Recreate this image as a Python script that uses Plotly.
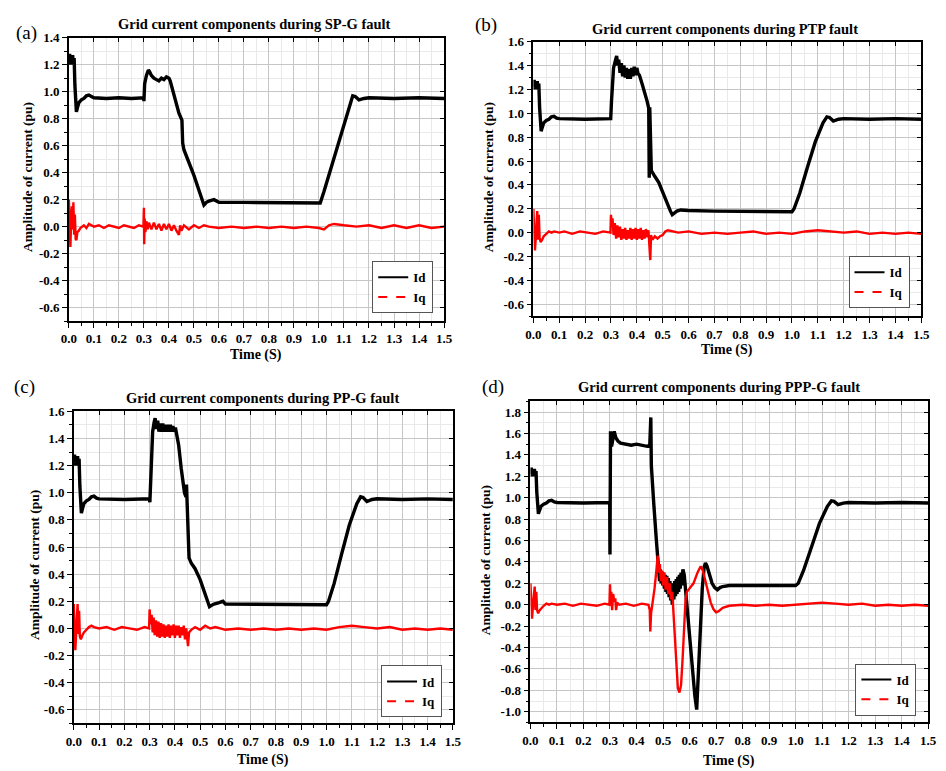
import plotly.graph_objects as go

# ---------------------------------------------------------------------------
# Grid current components (Id, Iq) in pu versus time (s) for four fault types
# ---------------------------------------------------------------------------

FAULTS = ["SP-G", "PTP", "PP-G", "PPP-G"]
PANEL_TAGS = ["(a)", "(b)", "(c)", "(d)"]
SERIES_NAMES = ["Id", "Iq"]
X_TICKS = [round(0.1 * k, 1) for k in range(16)]

# (time, value) samples
ID_SPG = [(0.000, 1.22), (0.003, 1.28), (0.006, 1.20), (0.009, 1.26), (0.012, 1.21), (0.015, 1.27),
          (0.018, 1.20), (0.021, 1.25), (0.024, 1.05), (0.027, 0.90), (0.030, 0.85), (0.034, 0.88),
          (0.040, 0.92), (0.050, 0.94), (0.060, 0.95), (0.070, 0.97), (0.080, 0.975), (0.090, 0.965),
          (0.100, 0.955), (0.150, 0.95), (0.200, 0.955), (0.250, 0.95), (0.299, 0.955), (0.300, 0.93),
          (0.303, 1.06), (0.310, 1.12), (0.318, 1.16), (0.322, 1.15), (0.330, 1.12), (0.340, 1.10),
          (0.350, 1.09), (0.360, 1.08), (0.370, 1.10), (0.380, 1.09), (0.390, 1.11), (0.400, 1.10),
          (0.405, 1.08), (0.420, 0.98), (0.440, 0.84), (0.452, 0.79), (0.455, 0.62), (0.460, 0.57),
          (0.480, 0.48), (0.500, 0.38), (0.520, 0.27), (0.535, 0.17), (0.540, 0.16), (0.550, 0.18),
          (0.560, 0.19), (0.580, 0.20), (0.600, 0.18), (0.700, 0.18), (0.800, 0.18), (0.900, 0.18),
          (1.000, 0.18), (1.005, 0.175), (1.020, 0.26), (1.050, 0.44), (1.080, 0.62), (1.110, 0.80),
          (1.135, 0.97), (1.145, 0.965), (1.160, 0.94), (1.180, 0.95), (1.200, 0.955), (1.300, 0.95),
          (1.400, 0.955), (1.500, 0.95)]

IQ_SPG = [(0.000, 0.20), (0.003, -0.10), (0.006, -0.15), (0.009, 0.04), (0.012, 0.15), (0.015, -0.02),
          (0.018, 0.18), (0.021, -0.06), (0.024, 0.09), (0.027, -0.09), (0.030, -0.10), (0.034, -0.04),
          (0.040, -0.03), (0.046, -0.01), (0.052, 0.00), (0.060, 0.01), (0.070, -0.01), (0.080, 0.02),
          (0.090, 0.01), (0.100, 0.00), (0.120, 0.01), (0.140, -0.01), (0.160, 0.01), (0.180, 0.00),
          (0.200, -0.01), (0.220, 0.01), (0.240, 0.00), (0.260, -0.01), (0.280, 0.01), (0.298, 0.00),
          (0.300, 0.14), (0.301, -0.13), (0.303, 0.06), (0.306, -0.04), (0.310, 0.04), (0.315, -0.02),
          (0.320, 0.03), (0.330, -0.02), (0.340, 0.03), (0.350, -0.02), (0.360, 0.02), (0.370, -0.03),
          (0.380, 0.02), (0.390, -0.02), (0.400, 0.02), (0.410, -0.03), (0.420, 0.01), (0.430, -0.03),
          (0.440, -0.06), (0.445, 0.01), (0.450, -0.03), (0.460, 0.01), (0.480, -0.02), (0.500, 0.01),
          (0.520, -0.01), (0.540, 0.01), (0.560, 0.00), (0.600, -0.01), (0.650, 0.00), (0.700, -0.01),
          (0.750, 0.00), (0.800, -0.01), (0.850, 0.00), (0.900, -0.01), (0.950, 0.00), (1.000, -0.01),
          (1.020, -0.02), (1.040, 0.01), (1.060, 0.02), (1.100, 0.01), (1.150, 0.00), (1.200, 0.01),
          (1.250, -0.01), (1.300, 0.01), (1.350, -0.01), (1.400, 0.01), (1.450, -0.01), (1.500, 0.00)]

ID_PTP = [(0.000, 1.22), (0.003, 1.28), (0.006, 1.20), (0.009, 1.26), (0.012, 1.21), (0.015, 1.27),
          (0.018, 1.20), (0.021, 1.25), (0.024, 1.05), (0.027, 0.90), (0.030, 0.85), (0.034, 0.88),
          (0.040, 0.92), (0.050, 0.94), (0.060, 0.95), (0.070, 0.97), (0.080, 0.975), (0.090, 0.96),
          (0.100, 0.955), (0.200, 0.95), (0.299, 0.955), (0.302, 1.10), (0.310, 1.38), (0.318, 1.45),
          (0.322, 1.48), (0.326, 1.40), (0.330, 1.45), (0.335, 1.34), (0.340, 1.42), (0.345, 1.31),
          (0.350, 1.40), (0.355, 1.30), (0.360, 1.38), (0.365, 1.29), (0.370, 1.37), (0.375, 1.29),
          (0.380, 1.38), (0.385, 1.31), (0.390, 1.39), (0.395, 1.32), (0.400, 1.38), (0.405, 1.33),
          (0.410, 1.32), (0.420, 1.25), (0.432, 1.17), (0.440, 1.10), (0.446, 1.04), (0.448, 0.46),
          (0.450, 1.05), (0.452, 0.70), (0.456, 0.52), (0.470, 0.47), (0.485, 0.42), (0.500, 0.34),
          (0.515, 0.25), (0.530, 0.18), (0.537, 0.15), (0.545, 0.16), (0.555, 0.18), (0.570, 0.19),
          (0.600, 0.185), (0.700, 0.18), (0.800, 0.18), (0.900, 0.18), (1.000, 0.175), (1.008, 0.20),
          (1.030, 0.33), (1.060, 0.55), (1.090, 0.76), (1.120, 0.92), (1.135, 0.97), (1.145, 0.965),
          (1.160, 0.935), (1.180, 0.95), (1.200, 0.955), (1.300, 0.95), (1.400, 0.955), (1.500, 0.95)]

IQ_PTP = [(0.000, 0.20), (0.003, -0.12), (0.006, -0.15), (0.009, -0.05), (0.012, 0.08), (0.015, 0.18),
          (0.018, -0.06), (0.021, 0.15), (0.024, -0.04), (0.028, -0.08), (0.034, -0.06), (0.040, -0.03),
          (0.050, -0.01), (0.060, 0.01), (0.070, 0.00), (0.080, 0.01), (0.100, 0.00), (0.120, 0.01),
          (0.150, -0.01), (0.180, 0.01), (0.210, 0.00), (0.240, -0.01), (0.270, 0.01), (0.298, 0.00),
          (0.300, 0.15), (0.303, 0.05), (0.306, 0.12), (0.310, -0.02), (0.315, 0.08), (0.320, -0.05),
          (0.325, 0.06), (0.330, -0.04), (0.335, 0.05), (0.340, -0.06), (0.345, 0.03), (0.350, -0.05),
          (0.355, 0.04), (0.360, -0.06), (0.365, 0.02), (0.370, -0.05), (0.375, 0.04), (0.380, -0.06),
          (0.385, 0.03), (0.390, -0.05), (0.395, 0.04), (0.400, -0.06), (0.405, 0.03), (0.410, -0.05),
          (0.415, 0.04), (0.420, -0.06), (0.425, 0.02), (0.430, -0.05), (0.435, 0.03), (0.440, -0.04),
          (0.445, 0.02), (0.452, -0.23), (0.455, -0.02), (0.460, -0.06), (0.470, -0.03), (0.480, -0.05),
          (0.490, -0.03), (0.500, -0.02), (0.510, 0.01), (0.520, 0.02), (0.540, 0.01), (0.560, 0.00),
          (0.600, 0.01), (0.650, -0.01), (0.700, 0.00), (0.750, -0.01), (0.800, 0.00), (0.850, 0.01),
          (0.900, -0.01), (0.950, 0.00), (1.000, -0.01), (1.050, 0.01), (1.100, 0.02), (1.150, 0.01),
          (1.200, 0.00), (1.250, 0.01), (1.300, -0.01), (1.350, 0.00), (1.400, -0.01), (1.450, 0.00),
          (1.500, -0.01)]

ID_PPG = [(0.000, 1.22), (0.003, 1.28), (0.006, 1.20), (0.009, 1.26), (0.012, 1.21), (0.015, 1.27),
          (0.018, 1.20), (0.021, 1.25), (0.024, 1.05), (0.027, 0.90), (0.030, 0.85), (0.034, 0.88),
          (0.040, 0.92), (0.050, 0.94), (0.060, 0.95), (0.070, 0.97), (0.080, 0.975), (0.090, 0.96),
          (0.100, 0.955), (0.200, 0.95), (0.299, 0.955), (0.301, 0.93), (0.305, 1.15), (0.312, 1.45),
          (0.318, 1.52), (0.322, 1.55), (0.326, 1.47), (0.332, 1.53), (0.337, 1.45), (0.342, 1.51),
          (0.347, 1.45), (0.352, 1.51), (0.357, 1.45), (0.362, 1.50), (0.367, 1.45), (0.372, 1.50),
          (0.377, 1.45), (0.382, 1.50), (0.387, 1.45), (0.392, 1.49), (0.397, 1.45), (0.402, 1.48),
          (0.405, 1.45), (0.415, 1.35), (0.425, 1.18), (0.432, 1.05), (0.438, 1.00), (0.444, 0.97),
          (0.446, 1.06), (0.448, 0.95), (0.452, 0.72), (0.456, 0.52), (0.465, 0.48), (0.480, 0.44),
          (0.500, 0.36), (0.520, 0.26), (0.537, 0.16), (0.545, 0.17), (0.555, 0.18), (0.575, 0.19),
          (0.590, 0.20), (0.600, 0.18), (0.700, 0.18), (0.800, 0.18), (0.900, 0.18), (1.000, 0.175),
          (1.008, 0.20), (1.030, 0.33), (1.060, 0.55), (1.090, 0.76), (1.120, 0.92), (1.135, 0.97),
          (1.145, 0.965), (1.160, 0.935), (1.180, 0.95), (1.200, 0.955), (1.300, 0.95), (1.400, 0.955),
          (1.500, 0.95)]

IQ_PPG = [(0.000, 0.18), (0.003, -0.10), (0.006, -0.16), (0.009, -0.05), (0.012, 0.10), (0.015, 0.18),
          (0.018, -0.04), (0.021, 0.13), (0.024, -0.06), (0.028, -0.08), (0.034, -0.05), (0.040, -0.03),
          (0.050, -0.01), (0.060, 0.01), (0.070, 0.02), (0.080, 0.01), (0.100, 0.00), (0.130, 0.01),
          (0.160, -0.01), (0.190, 0.01), (0.220, 0.00), (0.250, -0.01), (0.280, 0.01), (0.298, 0.00),
          (0.300, 0.14), (0.304, 0.03), (0.308, 0.10), (0.312, -0.03), (0.316, 0.08), (0.320, -0.05),
          (0.325, 0.06), (0.330, -0.06), (0.335, 0.05), (0.340, -0.07), (0.345, 0.04), (0.350, -0.06),
          (0.355, 0.03), (0.360, -0.07), (0.365, 0.02), (0.370, -0.06), (0.375, 0.03), (0.380, -0.07),
          (0.385, 0.02), (0.390, -0.05), (0.395, 0.03), (0.400, -0.07), (0.405, 0.02), (0.410, -0.05),
          (0.415, 0.02), (0.420, -0.07), (0.425, 0.01), (0.430, -0.05), (0.435, 0.02), (0.440, -0.08),
          (0.445, 0.00), (0.452, -0.13), (0.456, -0.03), (0.465, -0.01), (0.480, 0.01), (0.500, -0.01),
          (0.520, 0.02), (0.540, 0.00), (0.560, 0.01), (0.600, -0.01), (0.650, 0.00), (0.700, -0.01),
          (0.750, 0.00), (0.800, -0.01), (0.850, 0.00), (0.900, -0.01), (0.950, 0.00), (1.000, -0.01),
          (1.050, 0.01), (1.100, 0.02), (1.150, 0.01), (1.200, 0.00), (1.250, 0.01), (1.300, -0.01),
          (1.350, 0.00), (1.400, -0.01), (1.450, 0.00), (1.500, -0.01)]

ID_PPPG = [(0.000, 1.22), (0.003, 1.28), (0.006, 1.20), (0.009, 1.26), (0.012, 1.21), (0.015, 1.27),
           (0.018, 1.20), (0.021, 1.25), (0.024, 1.05), (0.027, 0.90), (0.030, 0.85), (0.034, 0.88),
           (0.040, 0.92), (0.050, 0.94), (0.060, 0.95), (0.070, 0.97), (0.080, 0.975), (0.090, 0.96),
           (0.100, 0.955), (0.200, 0.95), (0.299, 0.955), (0.300, 0.47), (0.302, 1.62), (0.306, 1.48),
           (0.312, 1.60), (0.316, 1.62), (0.322, 1.56), (0.330, 1.53), (0.340, 1.51), (0.360, 1.50),
           (0.380, 1.49), (0.400, 1.50), (0.420, 1.49), (0.440, 1.48), (0.450, 1.49), (0.454, 1.75),
           (0.456, 1.30), (0.458, 1.20), (0.465, 0.95), (0.475, 0.60), (0.484, 0.30), (0.487, 0.22),
           (0.490, 0.33), (0.493, 0.20), (0.496, 0.31), (0.499, 0.18), (0.502, 0.30), (0.505, 0.15),
           (0.508, 0.28), (0.511, 0.12), (0.514, 0.27), (0.517, 0.10), (0.520, 0.25), (0.523, 0.07),
           (0.526, 0.22), (0.529, 0.04), (0.532, 0.20), (0.535, 0.00), (0.538, 0.18), (0.541, 0.05),
           (0.544, 0.22), (0.547, 0.08), (0.550, 0.24), (0.553, 0.10), (0.556, 0.26), (0.559, 0.12),
           (0.562, 0.28), (0.565, 0.15), (0.568, 0.30), (0.571, 0.18), (0.575, 0.33), (0.580, 0.28),
           (0.590, 0.00), (0.600, -0.30), (0.610, -0.58), (0.620, -0.85), (0.627, -0.98), (0.633, -0.60),
           (0.640, -0.20), (0.648, 0.15), (0.655, 0.35), (0.660, 0.39), (0.666, 0.36), (0.675, 0.27),
           (0.685, 0.20), (0.695, 0.16), (0.705, 0.14), (0.715, 0.16), (0.725, 0.17), (0.750, 0.18),
           (0.800, 0.18), (0.900, 0.18), (1.000, 0.18), (1.010, 0.20), (1.030, 0.32), (1.060, 0.54),
           (1.090, 0.76), (1.120, 0.92), (1.135, 0.97), (1.145, 0.965), (1.160, 0.935), (1.180, 0.95),
           (1.200, 0.955), (1.300, 0.95), (1.400, 0.955), (1.500, 0.95)]

IQ_PPPG = [(0.000, 0.20), (0.003, -0.10), (0.006, -0.13), (0.009, -0.03), (0.012, 0.08), (0.016, 0.17),
           (0.019, -0.05), (0.022, 0.12), (0.025, -0.05), (0.029, -0.08), (0.035, -0.05), (0.042, -0.03),
           (0.050, -0.01), (0.060, 0.01), (0.070, 0.00), (0.080, 0.01), (0.100, 0.00), (0.130, 0.01),
           (0.160, -0.01), (0.190, 0.01), (0.220, 0.00), (0.250, -0.01), (0.280, 0.01), (0.298, 0.00),
           (0.300, 0.19), (0.302, 0.05), (0.305, 0.12), (0.308, -0.05), (0.312, 0.10), (0.316, 0.03),
           (0.320, 0.06), (0.323, -0.05), (0.327, 0.02), (0.335, 0.00), (0.360, 0.01), (0.390, -0.01),
           (0.420, 0.01), (0.445, 0.00), (0.450, -0.05), (0.452, -0.25), (0.455, -0.08), (0.460, 0.00),
           (0.468, 0.15), (0.475, 0.32), (0.480, 0.46), (0.484, 0.30), (0.488, 0.38), (0.492, 0.22),
           (0.496, 0.32), (0.500, 0.18), (0.505, 0.30), (0.510, 0.14), (0.515, 0.26), (0.520, 0.10),
           (0.525, 0.20), (0.530, 0.05), (0.535, 0.12), (0.540, -0.10), (0.545, -0.35), (0.550, -0.60),
           (0.556, -0.78), (0.562, -0.82), (0.568, -0.75), (0.574, -0.50), (0.580, -0.20), (0.585, 0.05),
           (0.590, 0.12), (0.600, 0.15), (0.615, 0.20), (0.630, 0.30), (0.642, 0.36), (0.650, 0.32),
           (0.660, 0.22), (0.670, 0.10), (0.680, 0.02), (0.690, -0.04), (0.700, -0.07), (0.710, -0.06),
           (0.725, -0.03), (0.750, -0.01), (0.800, 0.00), (0.850, -0.01), (0.900, 0.00), (0.950, -0.01),
           (1.000, 0.00), (1.050, 0.01), (1.100, 0.02), (1.150, 0.01), (1.200, 0.00), (1.250, 0.01),
           (1.300, -0.01), (1.350, 0.00), (1.400, -0.01), (1.450, 0.00), (1.500, -0.01)]

ID_SERIES = [ID_SPG, ID_PTP, ID_PPG, ID_PPPG]
IQ_SERIES = [IQ_SPG, IQ_PTP, IQ_PPG, IQ_PPPG]
Y_RANGES = [(-0.7, 1.4), (-0.7, 1.6), (-0.7, 1.6), (-1.1, 1.9)]
Y_TICK_LO = [-0.6, -0.6, -0.6, -1.0]

# ---------------------------------------------------------------------------
# Layout geometry (pixels on a 946 x 771 canvas)
# ---------------------------------------------------------------------------
W, H = 946, 771
BOXES = [(62, 31, 444, 317), (535, 35, 930, 312), (67, 408, 453, 723), (532, 398, 937, 722)]
TITLE_POS = [(251, 17), (730, 22), (259, 395), (724, 383)]
TAG_POS = [(19, 26), (487, 18), (17, 383), (494, 383)]
YLAB_X = [20, 490, 27, 487]
XLAB_Y = [351, 346, 760, 761]
LEGEND_CORNER = [(433, 309), (918, 304), (442, 717), (925, 715)]

SERIF = "Liberation Serif"
ID_COLOR = "#000000"
IQ_COLOR = "#ff0000"


def px_x(p):
    return p / W


def px_y(p):
    return 1 - p / H


fig = go.Figure()
layout = dict(
    width=W, height=H, margin=dict(l=0, r=0, t=0, b=0),
    paper_bgcolor="white", plot_bgcolor="white",
    showlegend=True, annotations=[],
)

for i in range(4):
    n = "" if i == 0 else str(i + 1)
    xa, ya = "x" + n, "y" + n
    leg = "legend" + n
    x0, y0, x1, y1 = BOXES[i]

    t_d, v_d = zip(*ID_SERIES[i])
    t_q, v_q = zip(*IQ_SERIES[i])
    fig.add_trace(go.Scatter(x=t_d, y=v_d, mode="lines", xaxis=xa, yaxis=ya, showlegend=False,
                             line=dict(color=ID_COLOR, width=3.4), hoverinfo="skip"))
    fig.add_trace(go.Scatter(x=t_q, y=v_q, mode="lines", xaxis=xa, yaxis=ya, showlegend=False,
                             line=dict(color=IQ_COLOR, width=2.4), hoverinfo="skip"))
    # legend keys
    fig.add_trace(go.Scatter(x=[None], y=[None], mode="lines", xaxis=xa, yaxis=ya, legend=leg,
                             name=SERIES_NAMES[0], line=dict(color=ID_COLOR, width=2)))
    fig.add_trace(go.Scatter(x=[None], y=[None], mode="lines", xaxis=xa, yaxis=ya, legend=leg,
                             name=SERIES_NAMES[1], line=dict(color=IQ_COLOR, width=2, dash="dash")))

    tick_font = dict(family=SERIF, size=13, color="black", weight="bold")
    lo, hi = Y_RANGES[i]
    y_ticks = [round(Y_TICK_LO[i] + 0.2 * k, 1) for k in range(int(round((hi - Y_TICK_LO[i]) / 0.2)) + 1)]
    y_ticks = [v for v in y_ticks if v <= hi + 1e-9]

    layout["xaxis" + n] = dict(
        domain=[px_x(x0), px_x(x1)], anchor=ya, range=[0, 1.5],
        tickmode="array", tickvals=X_TICKS, ticktext=[f"{v:.1f}" for v in X_TICKS],
        ticks="outside", ticklen=5, tickwidth=1.2, tickcolor="black",
        showgrid=True, gridcolor="#c6c6c6", gridwidth=1,
        minor=dict(dtick=0.05, tick0=0, ticks="outside", ticklen=3, tickcolor="black",
                   showgrid=True, gridcolor="#e9e9e9", gridwidth=1),
        showline=True, linecolor="black", linewidth=1.5, mirror=True,
        zeroline=False, tickfont=tick_font, fixedrange=True,
    )
    layout["yaxis" + n] = dict(
        domain=[px_y(y1), px_y(y0)], anchor=xa, range=[lo, hi],
        tickmode="array", tickvals=y_ticks, ticktext=[f"{v:.1f}" for v in y_ticks],
        ticks="outside", ticklen=5, tickwidth=1.2, tickcolor="black",
        showgrid=True, gridcolor="#c6c6c6", gridwidth=1,
        minor=dict(dtick=0.1, tick0=0, ticks="outside", ticklen=3, tickcolor="black",
                   showgrid=True, gridcolor="#e9e9e9", gridwidth=1),
        showline=True, linecolor="black", linewidth=1.5, mirror=True,
        zeroline=False, tickfont=tick_font, fixedrange=True,
    )

    # inward ticks on the top and right frame edges
    k = str(i + 5)
    layout["xaxis" + k] = dict(
        domain=[px_x(x0), px_x(x1)], anchor="y" + k, overlaying=xa, side="top", range=[0, 1.5],
        tickmode="array", tickvals=X_TICKS, ticks="inside", ticklen=4, tickwidth=1,
        tickcolor="black", showticklabels=False, showgrid=False, zeroline=False,
        showline=False, fixedrange=True,
    )
    layout["yaxis" + k] = dict(
        domain=[px_y(y1), px_y(y0)], anchor="x" + k, overlaying=ya, side="right", range=[lo, hi],
        tickmode="array", tickvals=y_ticks, ticks="inside", ticklen=4, tickwidth=1,
        tickcolor="black", showticklabels=False, showgrid=False, zeroline=False,
        showline=False, fixedrange=True,
    )
    fig.add_trace(go.Scatter(x=[None], y=[None], mode="lines", xaxis="x" + k, yaxis="y" + k,
                             showlegend=False, hoverinfo="skip"))

    lx, ly = LEGEND_CORNER[i]
    layout[leg] = dict(
        x=px_x(lx), y=px_y(ly), xanchor="right", yanchor="bottom",
        bgcolor="white", bordercolor="#555555", borderwidth=1,
        font=dict(family=SERIF, size=13, color="black", weight="bold"),
        itemwidth=30, tracegroupgap=0,
    )

    tx, ty = TITLE_POS[i]
    layout["annotations"].append(dict(
        text=f"Grid current components during {FAULTS[i]} fault", x=px_x(tx), y=px_y(ty),
        xref="paper", yref="paper", xanchor="center", yanchor="middle", showarrow=False,
        font=dict(family=SERIF, size=14.5, color="black", weight="bold")))
    gx, gy = TAG_POS[i]
    layout["annotations"].append(dict(
        text=PANEL_TAGS[i], x=px_x(gx), y=px_y(gy), xref="paper", yref="paper",
        xanchor="center", yanchor="middle", showarrow=False,
        font=dict(family=SERIF, size=19, color="black")))
    layout["annotations"].append(dict(
        text="Amplitude of current (pu)", x=px_x(YLAB_X[i]), y=px_y((y0 + y1) / 2 - 2),
        xref="paper", yref="paper", xanchor="center", yanchor="middle", textangle=-90,
        showarrow=False, font=dict(family=SERIF, size=13.5, color="black", weight="bold")))
    layout["annotations"].append(dict(
        text="Time (S)", x=px_x((x0 + x1) / 2), y=px_y(XLAB_Y[i]), xref="paper", yref="paper",
        xanchor="center", yanchor="middle", showarrow=False,
        font=dict(family=SERIF, size=14, color="black", weight="bold")))

fig.update_layout(**layout)
fig.write_html("out.html")
